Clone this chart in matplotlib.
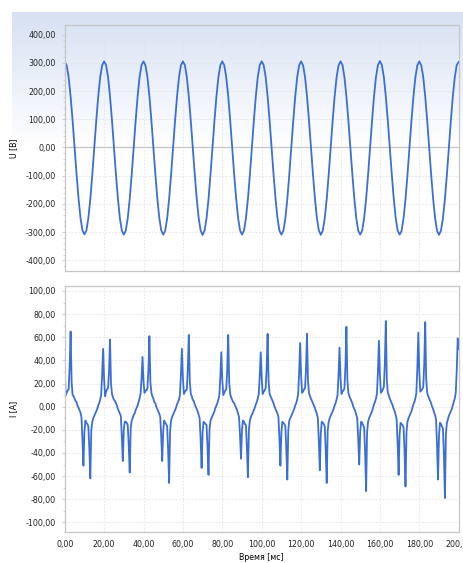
import matplotlib
matplotlib.use("Agg")
import matplotlib.pyplot as plt
from matplotlib.ticker import MultipleLocator, FuncFormatter
from matplotlib.colors import LinearSegmentedColormap
import numpy as np

plt.rcParams["font.family"] = ["DejaVu Sans"]
plt.rcParams["font.size"] = 5.7

# voltage, 1 ms steps, one row per 20 ms period
u_rows = [
    [304, 291, 249, 181, 96, 2, -93, -179, -249, -294, -308, -295, -251, -183, -97, -2, 93, 179, 248, 291],
    [305, 292, 250, 181, 96, 1, -94, -180, -250, -295, -309, -295, -251, -183, -97, -2, 93, 180, 249, 292],
    [305, 291, 249, 181, 96, 2, -93, -179, -249, -294, -309, -296, -252, -183, -97, -2, 93, 179, 248, 291],
    [305, 292, 249, 180, 95, 1, -94, -180, -250, -295, -310, -295, -251, -183, -97, -2, 93, 179, 248, 291],
    [305, 291, 249, 181, 96, 2, -93, -179, -249, -294, -309, -295, -251, -183, -97, -2, 93, 180, 249, 292],
    [305, 292, 250, 181, 96, 1, -94, -180, -250, -295, -309, -296, -252, -183, -97, -2, 93, 179, 248, 291],
    [305, 291, 249, 181, 96, 2, -93, -179, -249, -294, -310, -295, -251, -183, -97, -2, 93, 179, 248, 291],
    [305, 292, 249, 180, 95, 1, -94, -180, -250, -295, -309, -295, -251, -183, -97, -2, 93, 180, 249, 292],
    [306, 292, 250, 181, 96, 2, -93, -179, -249, -294, -309, -296, -252, -183, -97, -2, 93, 179, 248, 291],
    [305, 291, 249, 181, 96, 1, -94, -180, -250, -295, -310, -295, -251, -183, -97, -2, 93, 179, 248, 292],
]
u_last = 303

# current, 0.5 ms steps, one row per 20 ms period
i_rows = [
    [33, 10, 12, 14, 15, 34, 65, 22, 10, 9, 7, 5, 4, 1, -1, -3, -5, -9, -28, -51, -22, -12, -14, -15, -17, -36, -62, -20, -13, -10, -8, -6, -4, -2, 1, 3, 6, 10, 27, 50],
    [24, 9, 13, 15, 16, 30, 58, 20, 11, 8, 6, 5, 3, 1, -2, -4, -6, -8, -26, -47, -20, -13, -13, -14, -16, -33, -57, -19, -12, -10, -7, -6, -3, -1, 1, 4, 7, 11, 24, 43],
    [22, 12, 14, 14, 16, 32, 61, 21, 12, 9, 7, 4, 3, 0, -2, -4, -6, -9, -26, -47, -21, -12, -14, -15, -17, -38, -66, -21, -12, -9, -7, -5, -3, -1, 2, 4, 6, 10, 28, 50],
    [25, 11, 13, 14, 15, 33, 62, 22, 11, 9, 6, 5, 2, 0, -2, -4, -7, -10, -29, -53, -22, -13, -14, -15, -16, -35, -59, -20, -12, -10, -8, -6, -4, -1, 1, 3, 6, 10, 26, 47],
    [23, 10, 12, 14, 15, 32, 62, 21, 11, 8, 6, 4, 3, 1, -1, -3, -6, -9, -25, -45, -20, -12, -13, -15, -16, -36, -61, -20, -12, -9, -7, -5, -3, -1, 2, 4, 7, 11, 26, 47],
    [25, 11, 13, 14, 16, 33, 63, 22, 11, 9, 7, 5, 3, 0, -2, -4, -6, -9, -28, -51, -22, -13, -14, -15, -17, -37, -63, -20, -12, -10, -8, -6, -4, -2, 1, 3, 6, 11, 29, 55],
    [27, 12, 13, 15, 16, 33, 63, 22, 12, 9, 7, 5, 3, 1, -1, -4, -6, -10, -30, -55, -23, -13, -14, -15, -17, -38, -66, -21, -13, -10, -8, -6, -4, -2, 1, 3, 6, 10, 27, 51],
    [25, 11, 13, 14, 16, 35, 69, 23, 12, 9, 7, 5, 3, 0, -2, -4, -7, -10, -28, -50, -22, -13, -14, -16, -18, -40, -73, -22, -13, -10, -8, -6, -4, -1, 2, 4, 7, 11, 30, 57],
    [28, 12, 13, 15, 17, 37, 74, 24, 12, 10, 7, 5, 3, 1, -2, -4, -7, -11, -32, -59, -24, -14, -15, -16, -18, -38, -69, -22, -13, -10, -8, -6, -4, -1, 2, 4, 7, 12, 33, 64],
    [30, 13, 14, 15, 17, 37, 73, 24, 12, 9, 7, 5, 3, 0, -2, -5, -7, -11, -34, -63, -25, -14, -15, -17, -19, -42, -79, -24, -14, -11, -8, -6, -4, -2, 1, 4, 7, 12, 31, 59],
]
i_last = 50

x_ticks = [0, 20, 40, 60, 80, 100, 120, 140, 160, 180, 200]

u = [v for row in u_rows for v in row] + [u_last]
cur = [v for row in i_rows for v in row] + [i_last]
t_u = np.linspace(0, 200, len(u))
t_i = np.linspace(0, 200, len(cur))

W, H = 464, 563
fig = plt.figure(figsize=(W / 100, H / 100), dpi=100)

# light blue gradient behind the upper chart
bg = fig.add_axes([12 / W, 1 - 272 / H, (W - 12) / W, 260 / H], zorder=-5)
cmap = LinearSegmentedColormap.from_list("g", ["#d7e1f3", "#ffffff"])
grad = np.linspace(0, 1, 260)
grad = np.clip(grad / 0.52, 0, 1)[:, None]
bg.imshow(grad, aspect="auto", cmap=cmap, vmin=0, vmax=1, extent=[0, 1, 0, 1])
bg.axis("off")

left = 64.7 / W
width = (458.7 - 64.7) / W
ax1 = fig.add_axes([left, 1 - 270.7 / H, width, (270.7 - 25) / H])
ax2 = fig.add_axes([left, 1 - 532.3 / H, width, (532.3 - 286) / H])

line_col = "#3b6fd6"
spine_col = "#c6c6c6"
grid_col = "#e2e2e2"

fmt = FuncFormatter(lambda v, p: f"{v:.2f}".replace(".", ","))

for ax in (ax1, ax2):
    ax.set_facecolor("none")
    for s in ax.spines.values():
        s.set_color(spine_col)
        s.set_linewidth(0.9)
    ax.set_xlim(0, 200)
    ax.set_xticks(x_ticks)
    ax.grid(True, which="major", color=grid_col, linestyle=(0, (2, 2)), linewidth=0.6)
    ax.tick_params(axis="y", which="major", length=2, width=0.6, color=spine_col,
                   pad=4.4, labelcolor="#222222")
    ax.tick_params(axis="y", which="minor", length=1.6, width=0.5, color=spine_col)
    ax.tick_params(axis="x", length=0, pad=5.5, labelcolor="#222222")
    ax.yaxis.set_major_formatter(fmt)
    ax.xaxis.set_major_formatter(fmt)
    ax.set_axisbelow(True)

ax1.plot(t_u, u, color=line_col, linewidth=1.3, solid_joinstyle="round")
ax1.axhline(0, color=spine_col, linewidth=0.9, zorder=1)
ax1.set_ylim(-437, 434)
ax1.yaxis.set_major_locator(MultipleLocator(100))
ax1.yaxis.set_minor_locator(MultipleLocator(20))
ax1.tick_params(axis="x", labelbottom=False)
ax1.set_ylabel("U [B]")
ax1.yaxis.set_label_coords(-0.118, 0.5)

ax2.plot(t_i, cur, color=line_col, linewidth=1.3, solid_joinstyle="round")
ax2.set_ylim(-108.6, 104.3)
ax2.yaxis.set_major_locator(MultipleLocator(20))
ax2.yaxis.set_minor_locator(MultipleLocator(10))
ax2.set_ylabel("I [A]")
ax2.yaxis.set_label_coords(-0.118, 0.5)
ax2.set_xlabel("Время [мс]")
ax2.xaxis.set_label_coords(0.5, -0.084)

fig.savefig("out.png", dpi=100)
